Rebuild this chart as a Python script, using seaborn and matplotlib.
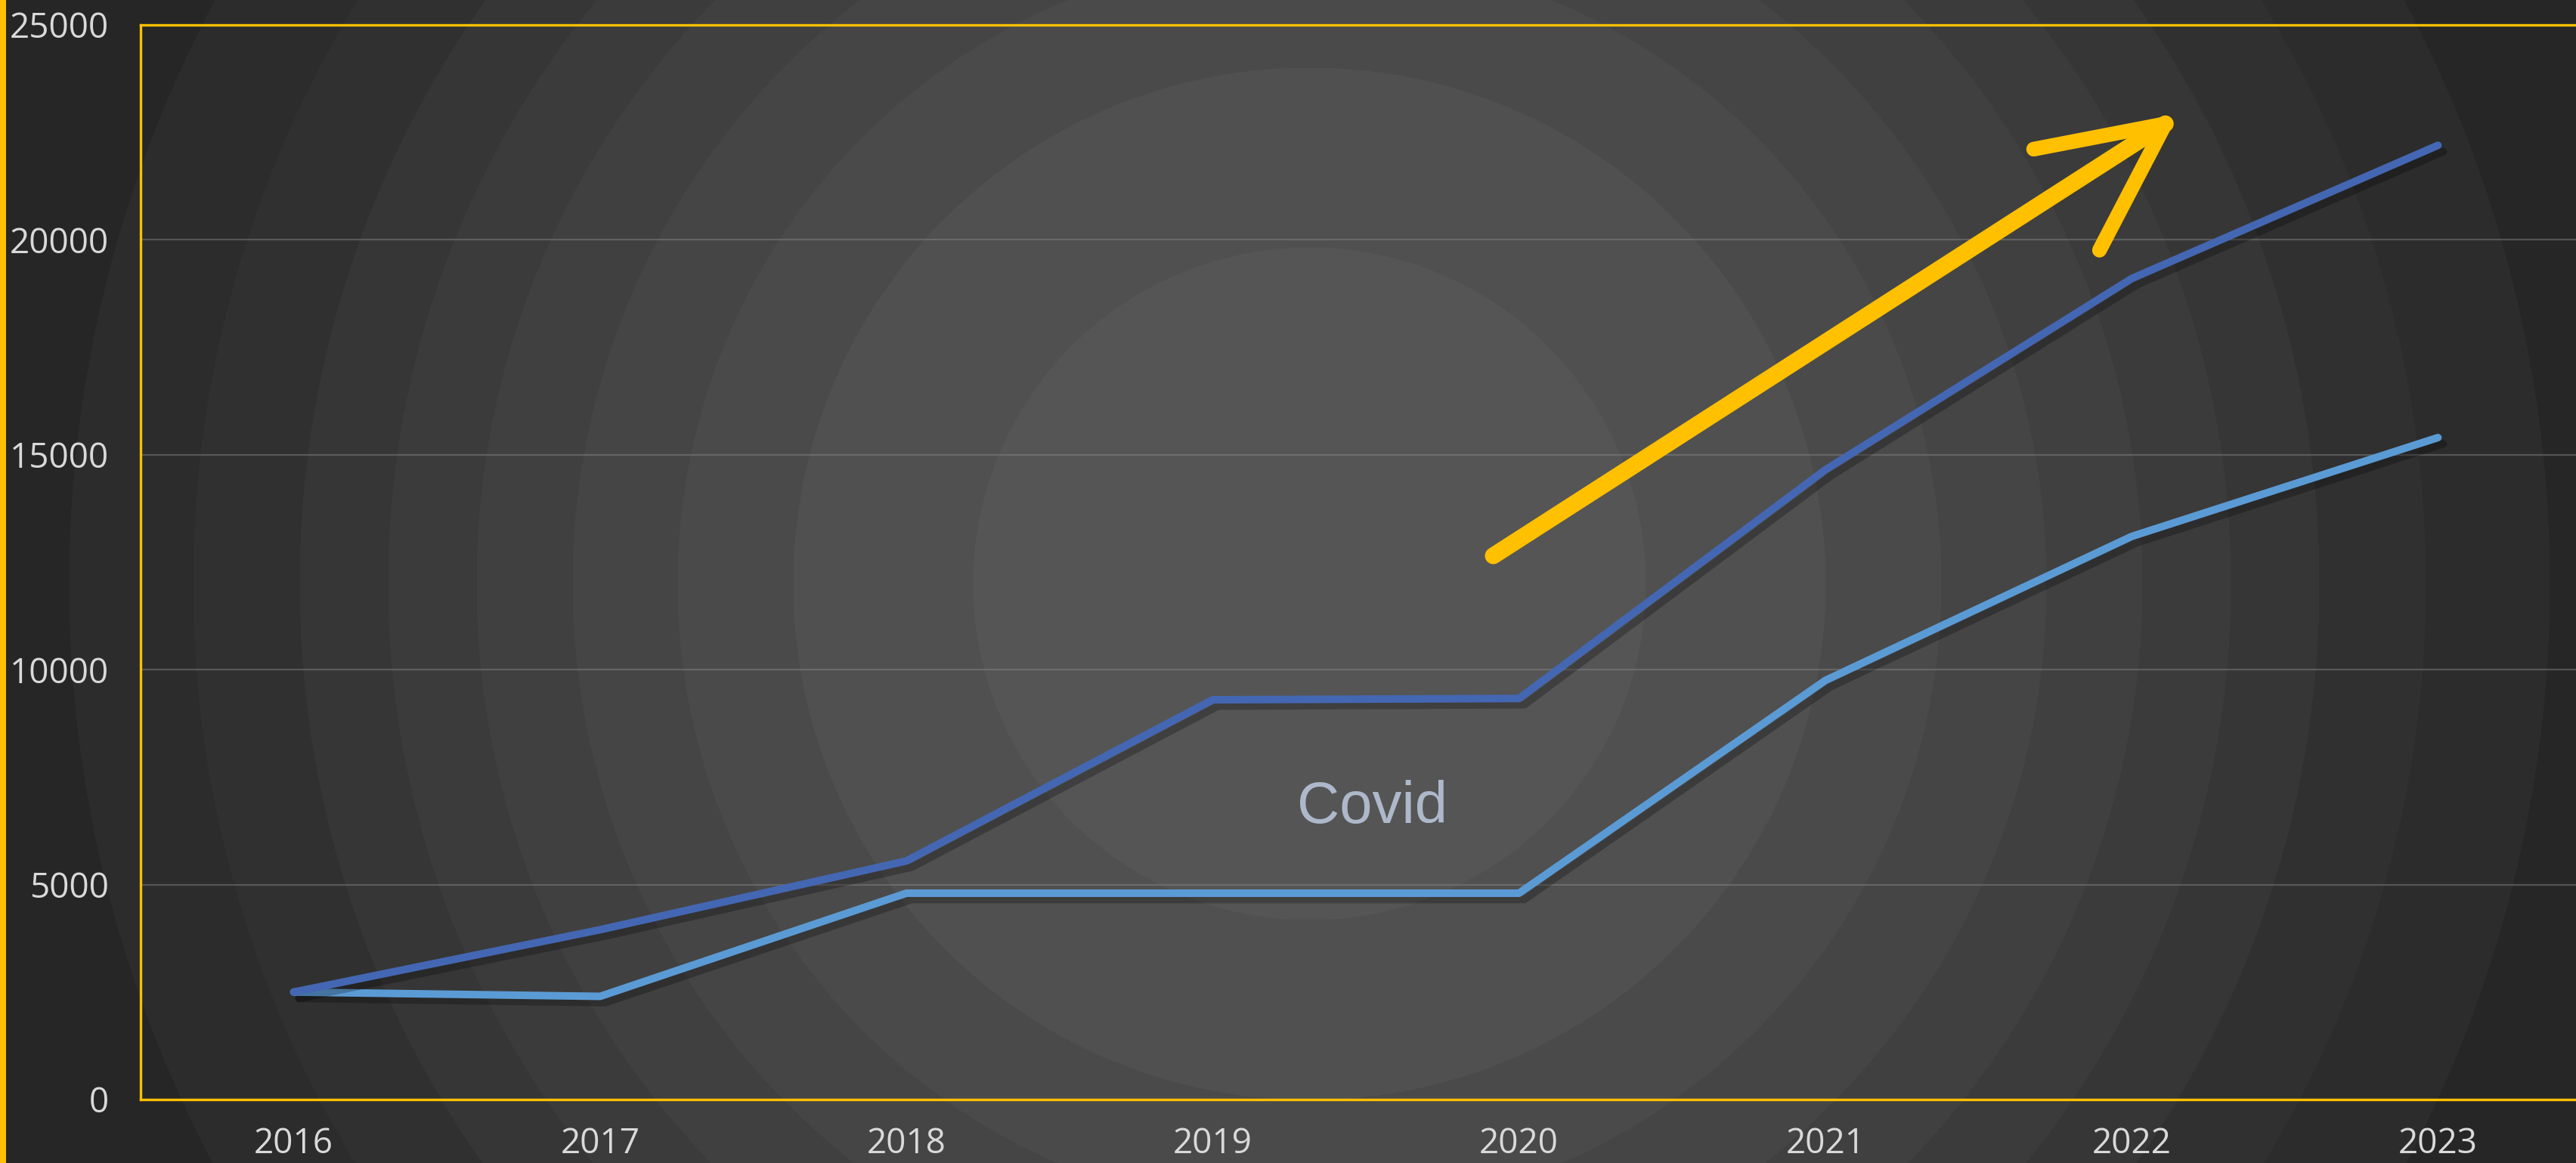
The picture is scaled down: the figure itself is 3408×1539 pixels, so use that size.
import numpy as np
import pandas as pd
import matplotlib
matplotlib.use("Agg")
import matplotlib.pyplot as plt
import matplotlib.patheffects as pe
from matplotlib.patches import Rectangle
import seaborn as sns

# ---- data ----
years = ["2016", "2017", "2018", "2019", "2020", "2021", "2022", "2023"]
series_a = [2500, 3950, 5550, 9300, 9330, 14650, 19100, 22200]   # dark blue
series_b = [2500, 2400, 4800, 4800, 4800, 9750, 13100, 15400]    # light blue
series_names = ["Série 1", "Série 2"]
y_ticks = [0, 5000, 10000, 15000, 20000, 25000]
annotation_text = "Covid"

# annotation positions (category index, value)
covid_pos = (3.52, 6800)
arrow_start = (3.916, 12650)
arrow_tip = (6.11, 22700)
arrow_arm1 = (5.68, 22110)
arrow_arm2 = (5.895, 19760)

W, H, DPI = 3408, 1539, 200
sns.set_theme(style="white")
plt.rcParams["font.family"] = ["Open Sans", "DejaVu Sans"]

fig = plt.figure(figsize=(W / DPI, H / DPI), dpi=DPI)

# ---- radial ring background ----
bg = fig.add_axes([0, 0, 1, 1], zorder=0)
yy, xx = np.mgrid[0:H, 0:W]
r = np.hypot(xx - 1732, yy - 772)
bounds = [445, 683, 836, 975, 1102, 1219, 1336, 1477, 1641]
cols = [0x55, 0x50, 0x4a, 0x45, 0x40, 0x3b, 0x36, 0x30, 0x2c, 0x26]
idx = np.digitize(r, bounds)
gray = np.array(cols)[idx] / 255.0
img = np.dstack([gray, gray, gray])
bg.imshow(img, extent=[0, W, H, 0], aspect="auto", interpolation="nearest")
bg.set_xlim(0, W)
bg.set_ylim(H, 0)
bg.axis("off")

# left yellow frame bar
fig.patches.append(Rectangle((0, 0), 8 / W, 1, transform=fig.transFigure,
                             facecolor="#ffc000", edgecolor="none", zorder=5))

# ---- main axes ----
left = 186 / W
bottom = 1 - 1455 / H
width = (3428 - 186) / W
height = (1455 - 33) / H
ax = fig.add_axes([left, bottom, width, height], zorder=2)
ax.set_facecolor("none")

df = pd.DataFrame({
    "year": years * 2,
    "value": series_a + series_b,
    "series": [series_names[0]] * len(years) + [series_names[1]] * len(years),
})
sns.lineplot(data=df, x="year", y="value", hue="series",
             palette=["#4467b3", "#5b9bd5"], linewidth=3.6,
             legend=False, ax=ax, sort=False, zorder=3)
for ln in ax.get_lines():
    ln.set_solid_capstyle("round")
    ln.set_solid_joinstyle("round")
    ln.set_path_effects([pe.SimpleLineShadow(offset=(2.5, -3), shadow_color="black", alpha=0.25),
                         pe.Normal()])
lines = ax.get_lines()
if len(lines) >= 2:
    lines[0].set_zorder(4)

ax.set_xlim(-0.5, len(years) - 0.5)
ax.set_ylim(0, 25000)
ax.set_yticks(y_ticks)
ax.set_yticklabels([str(v) for v in y_ticks])
ax.set_xlabel("")
ax.set_ylabel("")
ax.grid(axis="y", color="#8a8a8a", alpha=0.45, linewidth=0.8)
ax.grid(axis="x", visible=False)
ax.tick_params(axis="both", length=0, labelsize=16.5, labelcolor="#d9d9d9")
ax.tick_params(axis="y", pad=15)
ax.tick_params(axis="x", pad=13)
for s in ["left", "top", "bottom"]:
    ax.spines[s].set_visible(True)
    ax.spines[s].set_color("#ffc000")
    ax.spines[s].set_linewidth(1.2)
ax.spines["right"].set_visible(False)

# Covid label
ax.text(covid_pos[0], covid_pos[1], annotation_text, ha="center", va="center",
        fontsize=28, color="#adb9ca", family=["Liberation Sans", "DejaVu Sans"], zorder=5)

# hand-drawn style yellow arrow
arrow_kw = dict(color="#ffc000", solid_capstyle="round", solid_joinstyle="round", zorder=6)
ax.plot([arrow_start[0], arrow_tip[0]], [arrow_start[1], arrow_tip[1]], linewidth=8, **arrow_kw)
ax.plot([arrow_arm1[0], arrow_tip[0], arrow_arm2[0]],
        [arrow_arm1[1], arrow_tip[1], arrow_arm2[1]], linewidth=7, **arrow_kw)

fig.savefig("out.png", dpi=DPI)
